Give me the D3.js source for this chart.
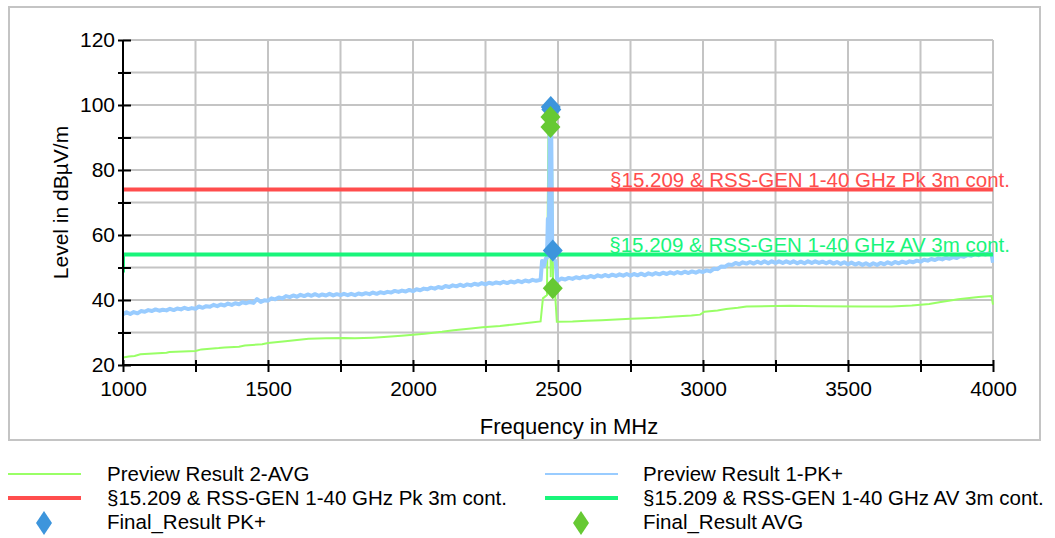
<!DOCTYPE html>
<html><head><meta charset="utf-8">
<script src="https://cdn.jsdelivr.net/npm/d3@7"></script>
<style>
html,body{margin:0;padding:0;background:#fff;}
svg{display:block;font-family:"Liberation Sans",Arial,Helvetica,sans-serif;}
</style></head>
<body>
<script>
// ---- data ----
const xTicks = [1000,1500,2000,2500,3000,3500,4000];
const yTicks = [20,40,60,80,100,120];

// Preview Result 1-PK+ : [MHz, dBµV/m]
const pkTrace = [
[1000,35.6],[1012,36.2],[1025,35.7],[1037,36.3],[1050,35.9],[1062,36.6],[1075,36.4],[1087,36.9],[1100,36.6],[1112,37.1],[1125,36.7],[1137,37.0],[1150,36.8],[1162,37.3],[1175,36.9],
[1187,37.4],[1200,37.1],[1212,37.6],[1225,37.2],[1237,37.5],[1250,37.3],[1262,38.0],[1275,37.6],[1287,38.1],[1300,37.9],[1312,38.5],[1325,38.1],[1337,38.6],[1350,38.3],[1362,38.9],[1375,38.5],
[1387,39.0],[1400,38.7],[1412,39.3],[1425,39.0],[1437,39.4],[1450,39.1],[1462,40.3],[1475,39.4],[1487,39.9],[1500,39.8],[1512,40.5],[1525,40.2],[1537,40.8],[1550,40.5],[1562,41.2],[1575,40.9],
[1587,41.4],[1600,41.0],[1612,41.6],[1625,41.2],[1637,41.7],[1650,41.3],[1662,41.8],[1675,41.3],[1687,41.7],[1700,41.4],[1712,41.9],[1725,41.4],[1737,41.8],[1750,41.5],[1762,41.9],[1775,41.5],
[1787,41.9],[1800,41.5],[1812,42.0],[1825,41.7],[1837,42.1],[1850,41.8],[1862,42.3],[1875,41.9],[1887,42.4],[1900,42.1],[1912,42.5],[1925,42.3],[1937,42.8],[1950,42.5],[1962,42.9],[1975,42.6],
[1987,43.1],[2000,42.7],[2012,43.3],[2025,43.0],[2037,43.5],[2050,43.3],[2062,43.8],[2075,43.5],[2087,44.0],[2100,43.7],[2112,44.3],[2125,44.0],[2137,44.5],[2150,44.2],[2162,44.7],[2175,44.3],
[2187,44.8],[2200,44.5],[2212,45.0],[2225,44.7],[2237,45.2],[2250,44.8],[2262,45.3],[2275,45.0],[2287,45.4],[2300,45.1],[2312,45.6],[2325,45.2],[2337,45.7],[2350,45.4],[2362,45.9],[2375,45.5],
[2387,46.0],[2400,45.7],[2412,46.2],[2425,45.9],[2440,46.2],[2445,52.0],[2452,50.5],[2458,52.8],[2462,53.0],[2465,65.0],[2468,55.0],
[2472,99.0],[2476,99.0],[2480,56.0],[2485,52.5],[2492,52.0],[2497,46.2],[2500,46.0],[2512,46.6],[2525,46.3],[2537,46.8],
[2550,46.5],[2562,47.0],[2575,46.7],[2587,47.2],[2600,46.9],[2612,47.4],[2625,47.0],[2637,47.6],[2650,47.2],[2662,47.7],[2675,47.3],[2687,47.8],[2700,47.4],[2712,47.9],[2725,47.5],
[2737,48.0],[2750,47.5],[2762,48.0],[2775,47.6],[2787,48.1],[2800,47.6],[2812,48.2],[2825,47.8],[2837,48.3],[2850,47.9],[2862,48.4],[2875,48.0],[2887,48.5],[2900,48.1],[2912,48.6],[2925,48.2],
[2937,48.7],[2950,48.3],[2962,48.8],[2975,48.4],[2987,48.9],[3000,48.6],[3012,49.1],[3025,48.8],[3037,49.6],[3050,49.5],[3062,50.3],[3075,50.2],[3087,50.9],[3100,50.8],[3112,51.4],[3125,51.0],
[3137,51.6],[3150,51.2],[3162,51.7],[3175,51.2],[3187,51.8],[3200,51.3],[3212,51.9],[3225,51.3],[3237,51.9],[3250,51.4],[3262,51.9],[3275,51.4],[3287,51.9],[3300,51.4],[3312,51.9],[3325,51.3],
[3337,51.8],[3350,51.3],[3362,51.9],[3375,51.4],[3387,51.9],[3400,51.4],[3412,51.8],[3425,51.3],[3437,51.8],[3450,51.2],[3462,51.7],[3475,51.1],[3487,51.6],[3500,51.0],[3512,51.5],[3525,50.9],
[3537,51.4],[3550,50.8],[3562,51.3],[3575,50.7],[3587,51.3],[3600,50.8],[3612,51.4],[3625,51.0],[3637,51.6],[3650,51.1],[3662,51.7],[3675,51.3],[3687,51.8],[3700,51.4],[3712,51.9],[3725,51.6],
[3737,52.1],[3750,51.8],[3762,52.4],[3775,52.1],[3787,52.6],[3800,52.3],[3812,52.8],[3825,52.5],[3837,53.0],[3850,52.7],[3862,53.2],[3875,52.9],[3887,53.5],[3900,53.3],[3912,53.8],[3925,53.6],
[3937,54.1],[3950,53.8],[3962,54.3],[3975,54.0],[3987,54.4],[3995,54.1],[4000,51.5]
];

// Preview Result 2-AVG
const avTrace = [
[1000,22.3],[1020,22.6],[1040,22.8],[1060,23.3],[1150,23.8],[1160,24.0],[1250,24.3],[1270,24.8],
[1330,25.2],[1350,25.4],[1400,25.6],[1420,26.0],[1480,26.4],[1500,26.8],[1560,27.3],[1600,27.7],
[1640,28.1],[1700,28.2],[1760,28.3],[1800,28.2],[1860,28.4],[1900,28.6],[1960,29.0],[2000,29.3],
[2040,29.6],[2100,30.2],[2140,30.7],[2200,31.2],[2240,31.6],[2300,32.0],[2340,32.4],[2400,33.0],
[2440,33.4],[2448,40.5],[2462,41.5],[2467,92.0],[2471,93.0],[2475,47.0],[2480,80.0],[2483,45.0],
[2490,42.0],[2496,33.3],[2550,33.4],[2600,33.6],[2650,33.8],[2700,34.0],[2750,34.2],[2800,34.4],
[2850,34.6],[2900,34.9],[2960,35.2],[2990,35.5],[3005,36.4],[3050,36.8],[3080,37.2],[3120,37.6],
[3150,38.0],[3300,38.2],[3400,38.1],[3550,38.0],[3650,38.0],[3720,38.3],[3780,38.8],[3820,39.4],
[3880,40.2],[3950,40.9],[3995,41.2],[4000,38.6]
];

const pkLimit = [[1000,74],[4000,74]];
const avLimit = [[1000,48.5],[1000,54],[4000,54]];
const pkLimitLabel = "§15.209 & RSS-GEN 1-40 GHz Pk 3m cont.";
const avLimitLabel = "§15.209 & RSS-GEN 1-40 GHz AV 3m cont.";

// Final results
const finalPK = [[2475,99.4],[2477,98.6],[2482,55.2]];
const finalAV = [[2474,96.3],[2474,93.2],[2482,43.6]];

const legendItems = [
 {label:"Preview Result 2-AVG", kind:"thin", color:"#99ff66"},
 {label:"Preview Result 1-PK+", kind:"thin", color:"#99ccff"},
 {label:"§15.209 & RSS-GEN 1-40 GHz Pk 3m cont.", kind:"thick", color:"#ff4d4d"},
 {label:"§15.209 & RSS-GEN 1-40 GHz AV 3m cont.", kind:"thick", color:"#19f57a"},
 {label:"Final_Result PK+", kind:"diamond", color:"#3d95dc"},
 {label:"Final_Result AVG", kind:"diamond", color:"#66c933"}
];

// ---- layout ----
const W=1055, H=538;
const svg = d3.select("body").append("svg").attr("width",W).attr("height",H);

svg.append("rect").attr("x",9).attr("y",7).attr("width",1031).attr("height",433)
  .attr("fill","#fff").attr("stroke","#c4c4c4").attr("stroke-width",2);

const x = d3.scaleLinear().domain([1000,4000]).range([123,993]);
const y = d3.scaleLinear().domain([20,120]).range([365,40]);

// grid
const gx = d3.range(1000,4001,250), gy = d3.range(20,121,10);
svg.append("g").selectAll("line").data(gx).join("line")
  .attr("x1",d=>x(d)).attr("x2",d=>x(d)).attr("y1",y(20)).attr("y2",y(120))
  .attr("stroke","#c4c4c4").attr("stroke-width",2);
svg.append("g").selectAll("line").data(gy).join("line")
  .attr("x1",x(1000)).attr("x2",x(4000)).attr("y1",d=>y(d)).attr("y2",d=>y(d))
  .attr("stroke","#c4c4c4").attr("stroke-width",2);

const line = d3.line().x(d=>x(d[0])).y(d=>y(d[1]));
svg.append("defs").append("clipPath").attr("id","c").append("rect")
  .attr("x",x(1000)-1).attr("y",y(120)).attr("width",x(4000)-x(1000)+2).attr("height",y(20)-y(120));
const plot = svg.append("g").attr("clip-path","url(#c)");

plot.append("path").datum(avTrace).attr("d",line).attr("fill","none")
  .attr("stroke","#99ff66").attr("stroke-width",2);
plot.append("path").datum(pkTrace).attr("d",line).attr("fill","none")
  .attr("stroke","#99ccff").attr("stroke-width",4).attr("stroke-linejoin","round");
plot.append("path").datum(pkLimit).attr("d",line).attr("fill","none")
  .attr("stroke","#ff4d4d").attr("stroke-width",4);
plot.append("path").datum(avLimit).attr("d",line).attr("fill","none")
  .attr("stroke","#19f57a").attr("stroke-width",4);

// limit labels
svg.append("text").attr("x",1010).attr("y",y(74)-3).attr("text-anchor","end")
  .attr("font-size",20.5).attr("fill","#ff4d4d").text(pkLimitLabel);
svg.append("text").attr("x",1010).attr("y",y(54)-3).attr("text-anchor","end")
  .attr("font-size",20.5).attr("fill","#19f57a").text(avLimitLabel);

// diamonds
const dia = (cx,cy,w,h)=>`M${cx},${cy-h}L${cx+w},${cy}L${cx},${cy+h}L${cx-w},${cy}Z`;
svg.append("g").selectAll("path").data(finalPK).join("path")
  .attr("d",d=>dia(x(d[0]),y(d[1]),10,11)).attr("fill","#3d95dc");
svg.append("g").selectAll("path").data(finalAV).join("path")
  .attr("d",d=>dia(x(d[0]),y(d[1]),10,11)).attr("fill","#66c933");

// axes
const xAxis = d3.axisBottom(x).tickValues(gx).tickSize(7)
  .tickFormat(d=>xTicks.includes(d)?d:"");
const gX = svg.append("g").attr("transform",`translate(0,${y(20)})`).call(xAxis);
gX.selectAll(".tick line").attr("y1",-5).attr("stroke","#000").attr("stroke-width",2);
gX.select(".domain").attr("d",`M${x(1000)},0H${x(4000)}`).attr("stroke","#000").attr("stroke-width",2);
gX.selectAll("text").attr("font-size",21).attr("fill","#000").attr("dy","1.0em")
  .attr("font-family","'Liberation Sans',Arial,sans-serif");

const yAxis = d3.axisLeft(y).tickValues(gy).tickSize(5)
  .tickFormat(d=>yTicks.includes(d)?d:"");
const gY = svg.append("g").attr("transform",`translate(${x(1000)},0)`).call(yAxis);
gY.selectAll(".tick line").attr("x2",8).attr("x1",-5).attr("stroke","#000").attr("stroke-width",2);
gY.select(".domain").attr("d",`M0,${y(20)}V${y(120)}`).attr("stroke","#000").attr("stroke-width",2);
gY.selectAll("text").attr("font-size",21).attr("fill","#000").attr("x",-8)
  .attr("font-family","'Liberation Sans',Arial,sans-serif");

svg.append("text").attr("x",569).attr("y",434).attr("text-anchor","middle")
  .attr("font-size",22).text("Frequency in MHz");
svg.append("text").attr("transform",`translate(68,${y(70)}) rotate(-90)`).attr("text-anchor","middle")
  .attr("font-size",21).text("Level in dBµV/m");

// legend
const lg = svg.append("g");
legendItems.forEach((it,i)=>{
  const col=i%2, row=Math.floor(i/2);
  const lx = col? 545:8, tx = col?643:107, cy = 474+row*24;
  if(it.kind==="diamond"){
    lg.append("path").attr("d",dia(lx+36,cy+1,8,12)).attr("fill",it.color);
  } else {
    lg.append("line").attr("x1",lx).attr("x2",lx+73).attr("y1",cy).attr("y2",cy)
      .attr("stroke",it.color).attr("stroke-width",it.kind==="thick"?4:2);
  }
  lg.append("text").attr("x",tx).attr("y",cy+7).attr("font-size",20.5).text(it.label);
});
</script>
</body></html>
